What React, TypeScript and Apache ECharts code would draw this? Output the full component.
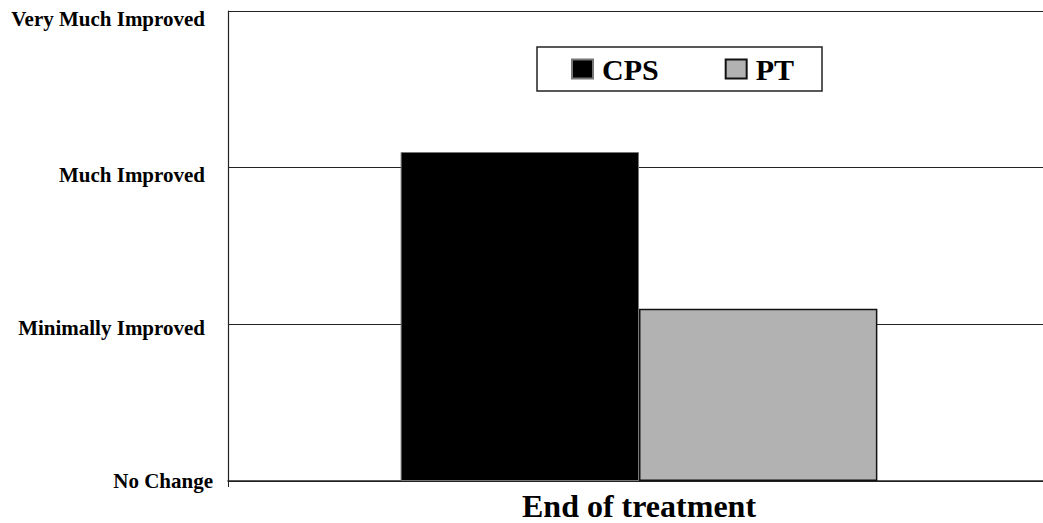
import React, { useEffect, useRef } from "react";
import * as echarts from "echarts";

const categories = ["End of treatment"];
const seriesNames = ["CPS", "PT"];
const cpsValues = [2.1];
const ptValues = [1.1];
const yTickLabels = ["No Change", "Minimally Improved", "Much Improved", "Very Much Improved"];

const FONT = "Liberation Serif";

export default function App() {
  const ref = useRef<HTMLDivElement>(null);
  useEffect(() => {
    if (!ref.current) return;
    const chart = echarts.init(ref.current, undefined, { renderer: "svg" });
    const richBase = { fontFamily: FONT, fontWeight: "bold" as const, fontSize: 21, color: "#000" };
    chart.setOption({
      animation: false,
      backgroundColor: "#fff",
      grid: { left: 228, right: -7, top: 11, bottom: 42, containLabel: false, outerBoundsMode: "none" },
      legend: {
        data: seriesNames,
        left: 537,
        top: 47,
        orient: "horizontal",
        icon: "rect",
        borderColor: "#222",
        borderWidth: 1.5,
        padding: [7, 28, 7, 34],
        itemWidth: 21,
        itemHeight: 19,
        itemGap: 66,
        selectedMode: false,
        formatter: (name: string) => "{l|" + name + "}",
        textStyle: {
          fontFamily: FONT, fontWeight: "bold", fontSize: 30, color: "#000",
          rich: { l: { fontFamily: FONT, fontWeight: "bold", fontSize: 30, color: "#000", padding: [0, 0, 0, 4] } },
        },
      },
      xAxis: {
        type: "category",
        data: categories,
        axisLine: { lineStyle: { color: "#222", width: 1.5 } },
        axisTick: { show: true, length: 6, lineStyle: { color: "#222" } },
        axisLabel: {
          margin: 10,
          formatter: (v: string) => "{x|" + v + "}",
          rich: { x: { fontFamily: FONT, fontWeight: "bold", fontSize: 32, lineHeight: 30, color: "#000" } },
        },
      },
      yAxis: {
        type: "value",
        min: 0,
        max: 3,
        interval: 1,
        axisLine: { show: true, lineStyle: { color: "#222", width: 1.2 } },
        axisTick: { show: false },
        splitLine: { show: true, lineStyle: { color: "#222", width: 1.2 } },
        axisLabel: {
          showMaxLabel: true,
          margin: 15,
          formatter: (v: number) => {
            const i = Math.round(v);
            return "{r" + i + "|" + yTickLabels[i] + "}";
          },
          rich: {
            r0: { ...richBase, padding: [0, 0, 0, 0] },
            r1: { ...richBase, padding: [8, 8, 0, 0] },
            r2: { ...richBase, padding: [14, 8, 0, 0] },
            r3: { ...richBase, padding: [16, 8, 0, 0] },
          },
        },
      },
      series: [
        {
          name: seriesNames[0],
          type: "bar",
          data: cpsValues,
          barWidth: "29%",
          barGap: "0%",
          itemStyle: { color: "#000", borderColor: "#777", borderWidth: 1 },
        },
        {
          name: seriesNames[1],
          type: "bar",
          data: ptValues,
          barWidth: "29%",
          barGap: "0%",
          itemStyle: { color: "#b2b2b2", borderColor: "#111", borderWidth: 1.5 },
        },
      ],
    });
    return () => chart.dispose();
  }, []);
  return (
    <div
      ref={ref}
      style={{ position: "absolute", left: 0, top: 0, width: 1043, height: 523, background: "#fff" }}
    />
  );
}
